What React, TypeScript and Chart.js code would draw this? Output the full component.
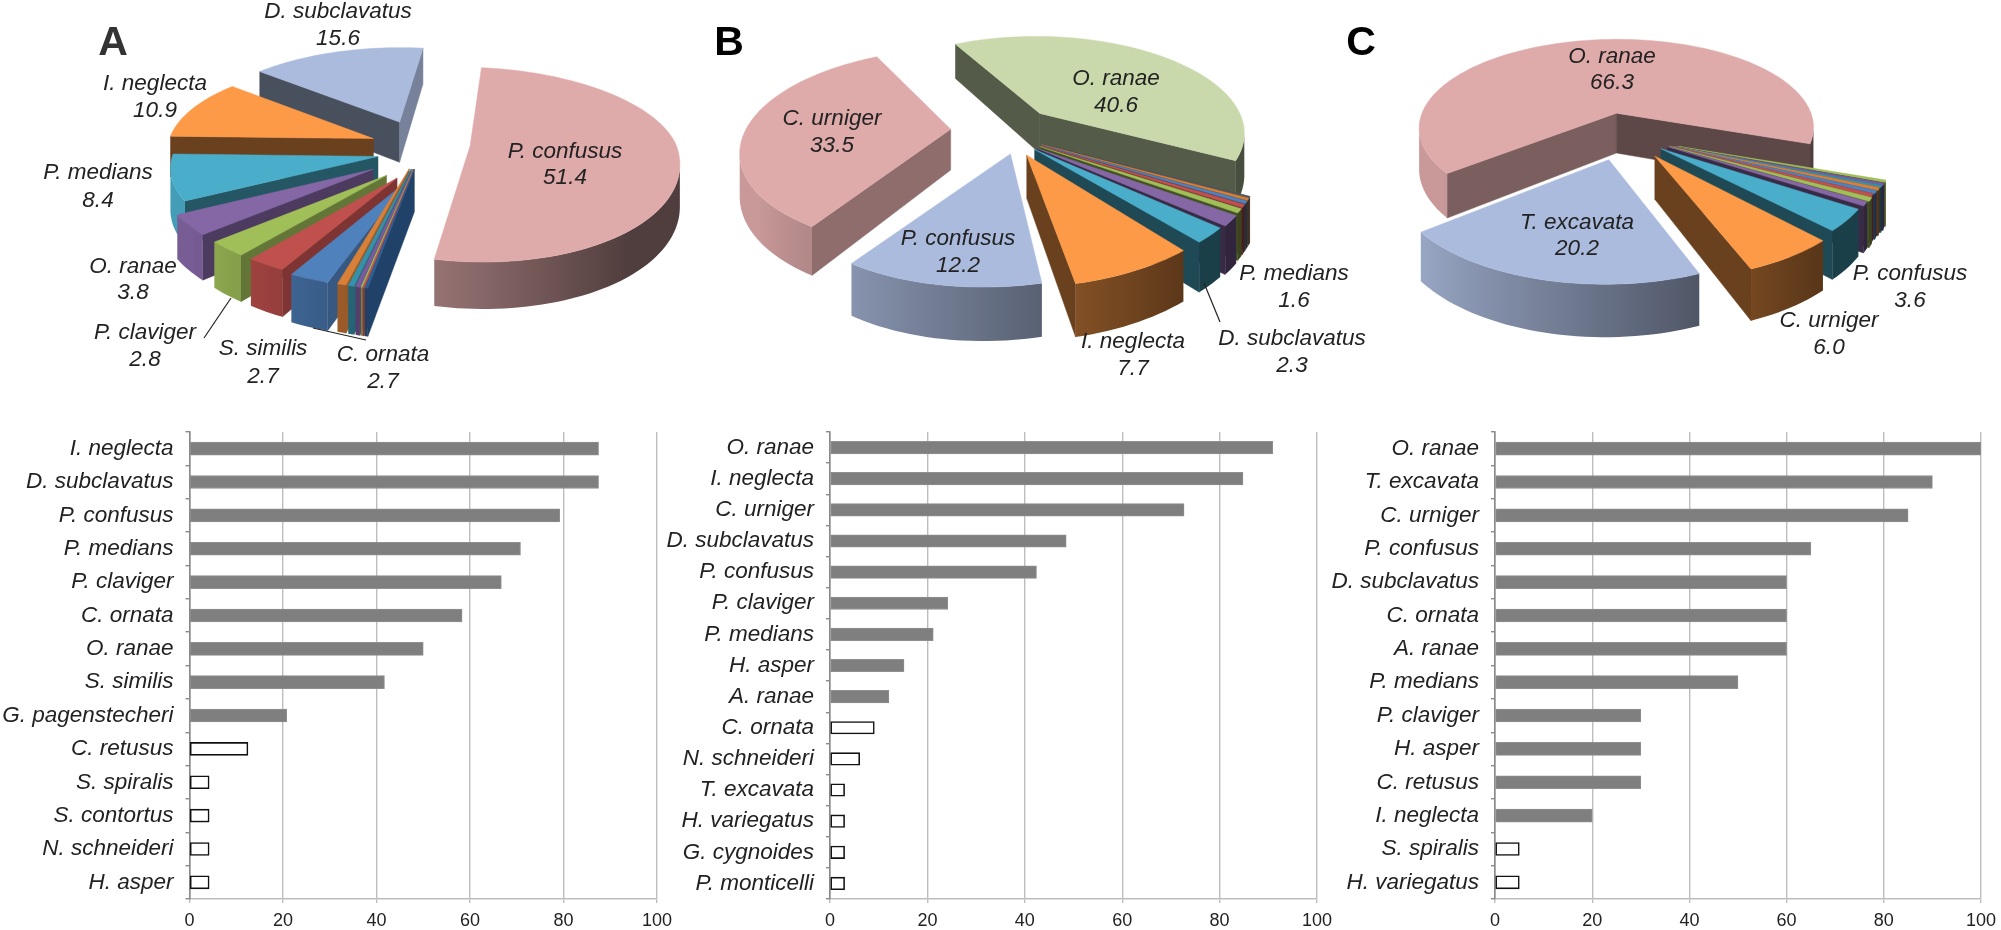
import React, { useEffect, useRef } from "react";
import { Chart, registerables } from "chart.js";

Chart.register(...registerables);

// ---------- pie data (clockwise order) ----------
const pieASpecies = ["P. confusus", "H. asper", "N. schneideri", "S. contortus", "S. spiralis", "C. retusus", "G. pagenstecheri", "C. ornata", "S. similis", "P. claviger", "O. ranae", "P. medians", "I. neglecta", "D. subclavatus"];
const pieAValues = [51.4, 0.2, 0.1, 0.1, 0.3, 0.4, 0.6, 2.7, 2.7, 2.8, 3.8, 8.4, 10.9, 15.6];
const pieBSpecies = ["O. ranae", "P. monticelli", "G. cygnoides", "H. variegatus", "T. excavata", "N. schneideri", "P. medians", "D. subclavatus", "I. neglecta", "P. confusus", "C. urniger"];
const pieBValues = [40.6, 0.2, 0.35, 0.4, 0.5, 0.65, 1.6, 2.3, 7.7, 12.2, 33.5];
const pieCSpecies = ["O. ranae", "H. variegatus", "S. spiralis", "I. neglecta", "C. retusus", "H. asper", "P. claviger", "P. medians", "A. ranae", "P. confusus", "C. urniger", "T. excavata"];
const pieCValues = [66.3, 0.35, 0.4, 0.35, 0.5, 0.5, 0.5, 0.6, 0.7, 3.6, 6.0, 20.2];

// ---------- bar data ----------
const barALabels = ["I. neglecta", "D. subclavatus", "P. confusus", "P. medians", "P. claviger", "C. ornata", "O. ranae", "S. similis", "G. pagenstecheri", "C. retusus", "S. spiralis", "S. contortus", "N. schneideri", "H. asper"];
const barAValues = [87.5, 87.5, 79.2, 70.8, 66.7, 58.3, 50, 41.7, 20.8, 12.5, 4.2, 4.2, 4.2, 4.2];
const barAFilledCount = 9;
const barBLabels = ["O. ranae", "I. neglecta", "C. urniger", "D. subclavatus", "P. confusus", "P. claviger", "P. medians", "H. asper", "A. ranae", "C. ornata", "N. schneideri", "T. excavata", "H. variegatus", "G. cygnoides", "P. monticelli"];
const barBValues = [90.9, 84.8, 72.7, 48.5, 42.4, 24.2, 21.2, 15.2, 12.1, 9.1, 6.1, 3, 3, 3, 3];
const barBFilledCount = 9;
const barCLabels = ["O. ranae", "T. excavata", "C. urniger", "P. confusus", "D. subclavatus", "C. ornata", "A. ranae", "P. medians", "P. claviger", "H. asper", "C. retusus", "I. neglecta", "S. spiralis", "H. variegatus"];
const barCValues = [100, 90, 85, 65, 60, 60, 60, 50, 30, 30, 30, 20, 5, 5];
const barCFilledCount = 12;
const xTicks = [0, 20, 40, 60, 80, 100];

// ---------- styles ----------
const PINK = "#DFAAAA", LAV = "#ABBBDD", ORANGE = "#FC9A47", TEAL = "#4AAECB", PURPLE = "#8567A6",
  GREEN = "#A0BF59", RED = "#C0504D", BLUE = "#4F81BD", PALEGREEN = "#C9D9AC",
  ORANGE2 = "#D98038", TEAL2 = "#3590A8", PURPLE2 = "#7A5A9E", NAVY = "#2F5F96", SLATE = "#4A5560";

const FONT = '"Liberation Sans", Arial, sans-serif';
const LABEL_FONT = `italic 22.5px ${FONT}`;

type PieCfg = {
  left: number; width: number;
  species: string[]; values: number[]; colors: string[]; explode: number[]; rotation: number;
  nudge: Record<number, number[]>;
  cam: { cx: number; cy: number; R: number; Rk: number; p: number; h: number };
  labels: [number, number, number, number][];
  leaders: [number, number, number, number][];
  letter: [string, number, number, string];
};

const smallA = [28, 0, 6, 15];
const pies: PieCfg[] = [
  {
    left: 0, width: 700, species: pieASpecies, values: pieAValues, rotation: 7,
    colors: [PINK, NAVY, RED, GREEN, PURPLE2, TEAL2, ORANGE2, BLUE, RED, GREEN, PURPLE, TEAL, ORANGE, LAV],
    explode: [0.33, 0.3, 0.3, 0.3, 0.3, 0.3, 0.3, 0.33, 0.28, 0.25, 0.2, 0.12, 0.14, 0.2],
    nudge: { 13: [14, -5], 0: [3, -2, 4, 16], 1: smallA, 2: smallA, 3: smallA, 4: smallA, 5: smallA, 6: smallA, 7: [34, 11], 8: [29, 14], 9: [22, 16], 10: [7, 16], 11: [2, 11] },
    cam: { cx: 400, cy: 143, R: 205, Rk: 87, p: 0.12, h: 41 },
    labels: [[0, 565, 152, 178], [13, 338, 12, 39], [12, 155, 84, 111], [11, 98, 173, 201], [10, 133, 267, 293], [9, 145, 333, 360], [8, 263, 349, 377], [7, 383, 355, 382]],
    leaders: [[204, 338, 231, 298], [313, 328, 366, 340]],
    letter: ["A", 113, 44, "#333333"],
  },
  {
    left: 700, width: 680, species: pieBSpecies, values: pieBValues, rotation: 332,
    colors: [PALEGREEN, SLATE, ORANGE2, BLUE, RED, GREEN, PURPLE, TEAL, ORANGE, LAV, PINK],
    explode: [0.19, 0.24, 0.24, 0.24, 0.24, 0.24, 0.25, 0.26, 0.28, 0.27, 0.29],
    nudge: { 0: [3, -4], 1: [-12, 3], 2: [-12, 3], 3: [-12, 3], 4: [-12, 3], 5: [-12, 3], 6: [-14, 3], 7: [-14, 1, -5], 8: [-10, 0, -16], 9: [10, -3, -25] },
    cam: { cx: 1010, cy: 130, R: 205, Rk: 96, p: 0.19, h: 41 },
    labels: [[0, 1116, 79, 106], [10, 832, 119, 146], [9, 958, 239, 266], [8, 1133, 342, 369], [6, 1294, 274, 301], [7, 1292, 339, 366]],
    leaders: [[1204, 283, 1220, 322]],
    letter: ["B", 729, 44, "#000000"],
  },
  {
    left: 1340, width: 661, species: pieCSpecies, values: pieCValues, rotation: 231,
    colors: [PINK, GREEN, PURPLE2, TEAL2, ORANGE2, BLUE, RED, GREEN, PURPLE, TEAL, ORANGE, LAV],
    explode: [0.17, 0.32, 0.32, 0.32, 0.32, 0.32, 0.32, 0.33, 0.33, 0.34, 0.36, 0.34],
    nudge: { 1: [-5, 8], 2: [-6, 8], 3: [-7, 7], 4: [-8, 6], 5: [-9, 5], 6: [-10, 4], 7: [-11, 3], 8: [-12, 2], 9: [-15, 0], 10: [-8, -1, -6], 11: [5, 0] },
    cam: { cx: 1622, cy: 128, R: 200, Rk: 91, p: 0.17, h: 41 },
    labels: [[0, 1612, 57, 83], [11, 1577, 223, 249], [9, 1910, 274, 301], [10, 1829, 321, 348]],
    leaders: [],
    letter: ["C", 1361, 44, "#000000"],
  },
];

const PIE_H = 420;

function shade(hex: string, f: number) {
  const n = parseInt(hex.slice(1), 16);
  const c = [(n >> 16) & 255, (n >> 8) & 255, n & 255].map((x) => Math.round(x * f));
  return `rgb(${c[0]},${c[1]},${c[2]})`;
}

const pie3dPlugin = {
  id: "pie3d",
  beforeDatasetsDraw(chart: any, _args: any, opts: any) {
    const cfg: PieCfg = opts.cfg;
    const { ctx } = chart;
    const meta = chart.getDatasetMeta(0);
    const cam = cfg.cam;
    const order = meta.data.map((el: any, i: number) => ({ i, key: Math.sin((el.startAngle + el.endAngle) / 2) }))
      .sort((a: any, b: any) => a.key - b.key);

    for (const { i } of order) {
      const el = meta.data[i];
      const color = cfg.colors[i];
      const [ndx, ndy, shear = 0, stretch = 0] = cfg.nudge[i] || [0, 0, 0, 0];
      const mid = (el.startAngle + el.endAngle) / 2;
      const e = el.options.offset / el.outerRadius;
      const ox = e * Math.cos(mid), oy = e * Math.sin(mid);
      const proj = (u: number, v: number, z = 0): [number, number] => {
        const s = 1 / (1 - cam.p * v);
        return [cam.cx - cfg.left + cam.R * u * s + ndx + shear * (v - oy), cam.cy + cam.Rk * v * s + cam.h * z * s + ndy + stretch * Math.max(0, v - oy)];
      };
      const steps = Math.max(2, Math.ceil((el.endAngle - el.startAngle) * 30));
      const rim: number[][] = [];
      const angs: number[] = [];
      for (let k = 0; k <= steps; k++) {
        const t = el.startAngle + ((el.endAngle - el.startAngle) * k) / steps;
        angs.push(t);
        rim.push([ox + Math.cos(t), oy + Math.sin(t)]);
      }
      const apex = [ox, oy];

      // straight cut walls
      const cut = (a: number[], b: number[]) => {
        const pa = proj(a[0], a[1]), pb = proj(b[0], b[1]);
        if (pb[0] - pa[0] >= 0) return;
        const qa = proj(a[0], a[1], 1), qb = proj(b[0], b[1], 1);
        const du = b[0] - a[0], dv = b[1] - a[1], L = Math.hypot(du, dv) || 1;
        const col = shade(color, 0.42 + 0.4 * Math.max(0, dv / L - 0.3));
        ctx.fillStyle = col; ctx.strokeStyle = col; ctx.lineWidth = 0.5;
        ctx.beginPath(); ctx.moveTo(pa[0], pa[1]); ctx.lineTo(pb[0], pb[1]); ctx.lineTo(qb[0], qb[1]); ctx.lineTo(qa[0], qa[1]); ctx.closePath();
        ctx.fill(); ctx.stroke();
      };
      cut(apex, rim[0]);
      cut(rim[rim.length - 1], apex);

      // curved outer wall: each visible run of the rim filled with one gradient
      const wallF = (t: number) => Math.min(0.9, Math.max(0.36, 0.6 - 0.37 * Math.cos(t)));
      let k = 0;
      while (k < steps) {
        if (proj(rim[k + 1][0], rim[k + 1][1])[0] >= proj(rim[k][0], rim[k][1])[0]) { k++; continue; }
        let end = k + 1;
        while (end < steps && proj(rim[end + 1][0], rim[end + 1][1])[0] < proj(rim[end][0], rim[end][1])[0]) end++;
        const xStart = proj(rim[k][0], rim[k][1])[0], xEnd = proj(rim[end][0], rim[end][1])[0];
        const g = ctx.createLinearGradient(xEnd, 0, xStart, 0);
        for (let m = end; m >= k; m--) {
          const x = proj(rim[m][0], rim[m][1])[0];
          g.addColorStop(Math.min(1, Math.max(0, (x - xEnd) / (xStart - xEnd || 1))), shade(color, wallF(angs[m])));
        }
        ctx.fillStyle = g;
        ctx.beginPath();
        for (let m = k; m <= end; m++) { const p = proj(rim[m][0], rim[m][1]); m === k ? ctx.moveTo(p[0], p[1]) : ctx.lineTo(p[0], p[1]); }
        for (let m = end; m >= k; m--) { const p = proj(rim[m][0], rim[m][1], 1); ctx.lineTo(p[0], p[1]); }
        ctx.closePath(); ctx.fill();
        k = end;
      }

      // top surface
      ctx.fillStyle = color; ctx.strokeStyle = color; ctx.lineWidth = 0.5;
      ctx.beginPath();
      const p0 = proj(apex[0], apex[1]);
      ctx.moveTo(p0[0], p0[1]);
      for (const r of rim) { const p = proj(r[0], r[1]); ctx.lineTo(p[0], p[1]); }
      ctx.closePath(); ctx.fill(); ctx.stroke();
    }

    // leader lines, labels, panel letter
    ctx.save();
    ctx.strokeStyle = "#222"; ctx.lineWidth = 1.2;
    for (const [x1, y1, x2, y2] of cfg.leaders) {
      ctx.beginPath(); ctx.moveTo(x1 - cfg.left, y1); ctx.lineTo(x2 - cfg.left, y2); ctx.stroke();
    }
    ctx.fillStyle = "#222"; ctx.textAlign = "center"; ctx.textBaseline = "middle"; ctx.font = LABEL_FONT;
    for (const [idx, x, y1, y2] of cfg.labels) {
      ctx.fillText(cfg.species[idx], x - cfg.left, y1);
      ctx.fillText(cfg.values[idx].toFixed(1), x - cfg.left, y2);
    }
    const [L, lx, ly, lc] = cfg.letter;
    ctx.font = `bold 41px ${FONT}`; ctx.fillStyle = lc;
    ctx.fillText(L, lx - cfg.left, ly);
    ctx.restore();
    return false;
  },
};

function PieChart({ cfg }: { cfg: PieCfg }) {
  const ref = useRef<HTMLCanvasElement>(null);
  useEffect(() => {
    const maxE = Math.max(...cfg.explode);
    const Rn = PIE_H / (2 + maxE);
    const chart = new Chart(ref.current!, {
      type: "pie",
      data: {
        labels: cfg.species,
        datasets: [{ data: cfg.values, backgroundColor: cfg.colors, borderWidth: 0, offset: cfg.explode.map((e) => e * Rn) }],
      },
      options: {
        responsive: false, animation: false, rotation: cfg.rotation,
        layout: { padding: 0 },
        plugins: { legend: { display: false }, tooltip: { enabled: false }, pie3d: { cfg } } as any,
      },
      plugins: [pie3dPlugin],
    } as any);
    return () => chart.destroy();
  }, [cfg]);
  return <canvas ref={ref} width={cfg.width} height={PIE_H} style={{ position: "absolute", left: cfg.left, top: 0, width: cfg.width, height: PIE_H }} />;
}

type BarCfg = { labels: string[]; values: number[]; filled: number; left: number; x0: number; x100: number; width: number; thickness: number };
const BAR_TOP = 420, AXIS_TOP = 432, AXIS_BOTTOM = 899;
const bars: BarCfg[] = [
  { labels: barALabels, values: barAValues, filled: barAFilledCount, left: 0, x0: 189.5, x100: 657, width: 675, thickness: 13 },
  { labels: barBLabels, values: barBValues, filled: barBFilledCount, left: 640, x0: 830, x100: 1317, width: 700, thickness: 12.5 },
  { labels: barCLabels, values: barCValues, filled: barCFilledCount, left: 1300, x0: 1495, x100: 1981, width: 701, thickness: 13 },
];

function BarChart({ cfg }: { cfg: BarCfg }) {
  const ref = useRef<HTMLCanvasElement>(null);
  useEffect(() => {
    const chart = new Chart(ref.current!, {
      type: "bar",
      data: {
        labels: cfg.labels,
        datasets: [{
          data: cfg.values,
          backgroundColor: cfg.values.map((_, i) => (i < cfg.filled ? "#7F7F7F" : "#FFFFFF")),
          borderColor: cfg.values.map((_, i) => (i < cfg.filled ? "#8F8F8F" : "#111111")),
          borderWidth: cfg.values.map((_, i) => (i < cfg.filled ? 1 : 1.6)),
          barThickness: cfg.thickness,
          borderSkipped: false,
        }],
      },
      options: {
        indexAxis: "y", responsive: false, animation: false,
        layout: { padding: { top: AXIS_TOP - BAR_TOP, right: cfg.left + cfg.width - cfg.x100, left: 0, bottom: 0 } },
        plugins: { legend: { display: false }, tooltip: { enabled: false } },
        scales: {
          x: {
            min: 0, max: 100,
            afterFit: (s: any) => { s.height = 930 - AXIS_BOTTOM; s.paddingLeft = 0; s.paddingRight = 0; },
            afterBuildTicks: (s: any) => { s.ticks = xTicks.map((value) => ({ value })); },
            grid: { color: "#BDBDBD", lineWidth: 1.4, tickLength: 4, drawTicks: true },
            border: { color: "#BDBDBD", width: 1.4 },
            ticks: { font: { family: FONT, size: 18 }, color: "#222", padding: 7, maxRotation: 0, autoSkip: false },
          },
          y: {
            afterFit: (s: any) => { s.width = cfg.x0 - cfg.left; s.paddingTop = 0; s.paddingBottom = 0; },
            grid: { drawOnChartArea: false, color: "#8A8A8A", lineWidth: 1.4, tickLength: 4, offset: true },
            border: { color: "#8A8A8A", width: 1.6 },
            ticks: { font: { family: FONT, size: 22.5, style: "italic" }, color: "#222", padding: 12, autoSkip: false },
          },
        },
      },
    } as any);
    return () => chart.destroy();
  }, [cfg]);
  return <canvas ref={ref} width={cfg.width} height={930 - BAR_TOP} style={{ position: "absolute", left: cfg.left, top: BAR_TOP, width: cfg.width, height: 930 - BAR_TOP }} />;
}

export default function App() {
  return (
    <div style={{ position: "fixed", left: 0, top: 0, width: 2001, height: 930, background: "#fff", overflow: "hidden" }}>
      {bars.map((b, i) => <BarChart key={i} cfg={b} />)}
      {pies.map((p, i) => <PieChart key={i} cfg={p} />)}
    </div>
  );
}
